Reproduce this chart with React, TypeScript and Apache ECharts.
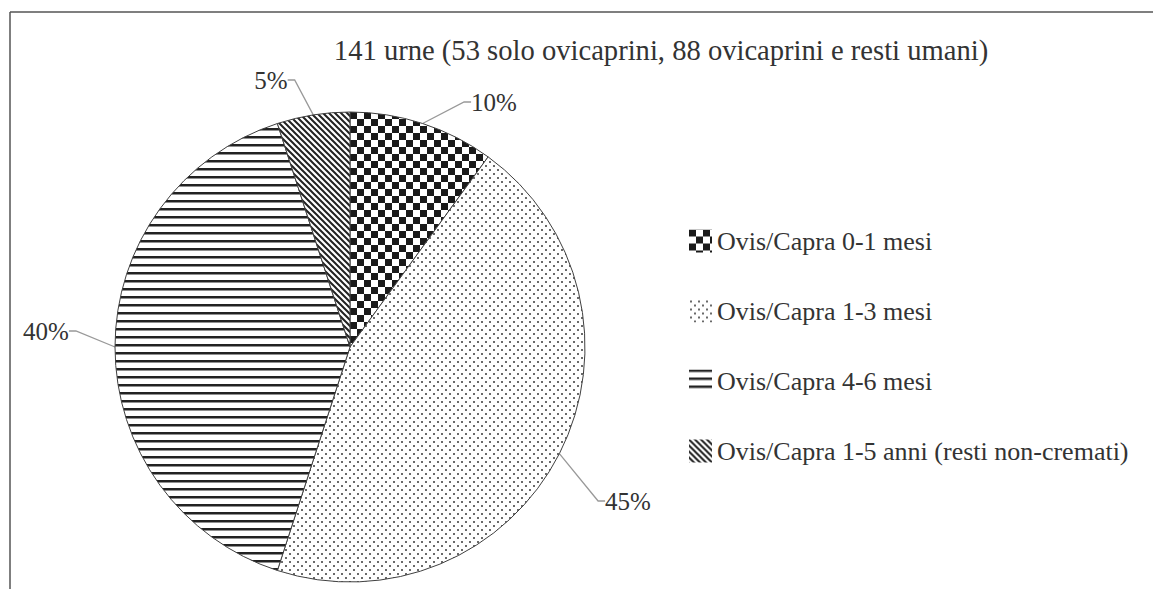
import React, { useEffect, useRef } from "react";
import * as echarts from "echarts";

const titleText = "141 urne (53 solo ovicaprini, 88 ovicaprini e resti umani)";
const categories = [
  "Ovis/Capra 0-1 mesi",
  "Ovis/Capra 1-3 mesi",
  "Ovis/Capra 4-6 mesi",
  "Ovis/Capra 1-5 anni (resti non-cremati)",
];
const values = [10, 45, 40, 5];

// label centre positions (layout only)
const labelCenters: [number, number][] = [
  [494, 102],
  [628, 501],
  [46, 331],
  [271, 80],
];

const FONT = "'Liberation Serif', 'Times New Roman', serif";

function makeTile(size: number, draw: (ctx: CanvasRenderingContext2D) => void) {
  const c = document.createElement("canvas");
  c.width = size;
  c.height = size;
  const ctx = c.getContext("2d")!;
  ctx.fillStyle = "#ffffff";
  ctx.fillRect(0, 0, size, size);
  draw(ctx);
  return {
    image: c.toDataURL(),
    imageWidth: size,
    imageHeight: size,
    repeat: "repeat",
  } as any;
}

function buildPatterns() {
  const checker = makeTile(14, (ctx) => {
    ctx.fillStyle = "#1a1a1a";
    ctx.fillRect(0, 0, 7, 7);
    ctx.fillRect(7, 7, 7, 7);
  });
  const dots = makeTile(8, (ctx) => {
    ctx.fillStyle = "#6a6a6a";
    ctx.fillRect(1, 1, 2, 2);
    ctx.fillRect(5, 5, 2, 2);
  });
  const hlines = makeTile(8, (ctx) => {
    ctx.fillStyle = "#222222";
    ctx.fillRect(0, 0, 8, 2.5);
  });
  const diag = makeTile(6, (ctx) => {
    ctx.strokeStyle = "#222222";
    ctx.lineWidth = 2;
    ctx.beginPath();
    ctx.moveTo(-1, -1);
    ctx.lineTo(7, 7);
    ctx.moveTo(-4, 2);
    ctx.lineTo(4, 10);
    ctx.moveTo(2, -4);
    ctx.lineTo(10, 4);
    ctx.stroke();
  });
  return [checker, dots, hlines, diag];
}

export default function App() {
  const ref = useRef<HTMLDivElement>(null);
  useEffect(() => {
    document.body.style.margin = "0";
    const chart = echarts.init(ref.current!, null, { renderer: "svg" });
    const patterns = buildPatterns();
    chart.setOption({
      animation: false,
      backgroundColor: "#ffffff",
      title: {
        text: titleText,
        left: 656,
        top: 31,
        textAlign: "center",
        textStyle: {
          fontFamily: FONT,
          fontSize: 28.6,
          fontWeight: "normal",
          color: "#333333",
        },
      },
      graphic: [
        {
          type: "line",
          shape: { x1: 10, y1: 12, x2: 1153, y2: 12 },
          style: { stroke: "#555555", lineWidth: 1.5 },
        },
        {
          type: "line",
          shape: { x1: 10, y1: 12, x2: 10, y2: 589 },
          style: { stroke: "#555555", lineWidth: 1.5 },
        },
      ],
      legend: {
        orient: "vertical",
        left: 684,
        top: 223,
        itemWidth: 23,
        itemHeight: 23,
        itemGap: 44,
        icon: "rect",
        itemStyle: { borderWidth: 0 },
        textStyle: {
          fontFamily: FONT,
          fontSize: 26,
          color: "#333333",
          padding: [0, 0, 0, 0],
        },
        data: categories,
      },
      series: [
        {
          type: "pie",
          center: [350, 347],
          radius: 235,
          startAngle: 90,
          clockwise: true,
          avoidLabelOverlap: false,
          itemStyle: { borderColor: "#404040", borderWidth: 1 },
          label: {
            show: true,
            formatter: "{c}%",
            fontFamily: FONT,
            fontSize: 25,
            color: "#333333",
            padding: [0, 3],
          },
          labelLine: {
            show: true,
            length: 20,
            length2: 7,
            lineStyle: { color: "#999999", width: 1.3 },
          },
          labelLayout: (params: any) => {
            const c = labelCenters[params.dataIndex];
            return { x: c[0], y: c[1], align: "center", verticalAlign: "middle" };
          },
          emphasis: { disabled: true },
          data: categories.map((name, i) => ({
            name,
            value: values[i],
            itemStyle: { color: patterns[i] },
          })),
        },
      ],
    });
    return () => chart.dispose();
  }, []);
  return <div ref={ref} style={{ width: 1153, height: 589 }} />;
}
